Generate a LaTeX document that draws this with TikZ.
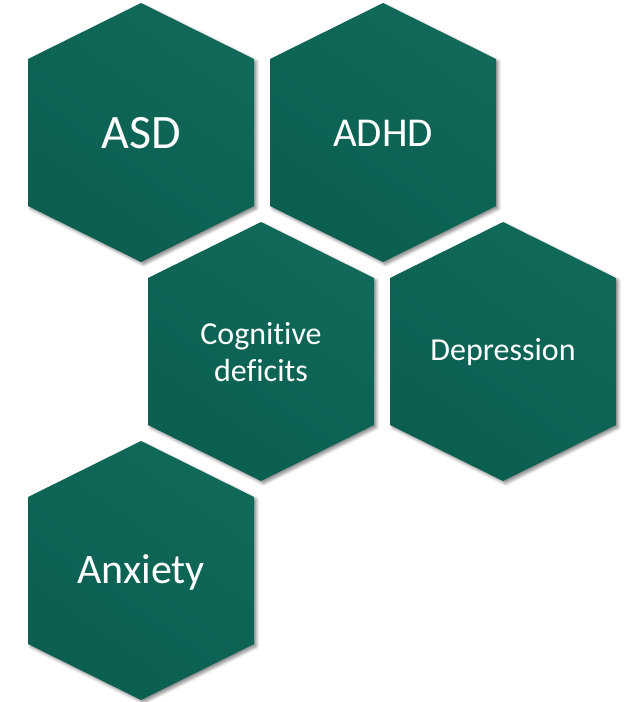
\documentclass[tikz,border=0pt]{standalone}
\usepackage{fontspec}
\setmainfont[Ligatures={NoCommon}]{Carlito}
\usetikzlibrary{shadows.blur}
\definecolor{hexdark}{HTML}{0B5E50}
\definecolor{hexmid}{HTML}{0D6455}
\definecolor{hexlight}{HTML}{11695A}
\begin{document}
\begin{tikzpicture}[x=1pt,y=-1pt,
  hexshape/.style={
    blur shadow={shadow xshift=2.5pt, shadow yshift=-2.5pt,
                 shadow blur radius=3pt, shadow opacity=45},
    top color=hexlight, bottom color=hexdark, middle color=hexmid,
    shading angle=-35},
  pics/hexcell/.style={code={
    \path[hexshape] (0,-129.5) -- (113,-73.5) -- (113,73.5) -- (0,129.5)
      -- (-113,73.5) -- (-113,-73.5) -- cycle;}},
  hexlabel/.style={text=white, align=center, inner sep=0pt}]
  \useasboundingbox (0,0) rectangle (628,702);

  % honeycomb cells
  \pic at (141,132.5) {hexcell};
  \pic at (383,132.5) {hexcell};
  \pic at (261,351.5) {hexcell};
  \pic at (503,351.5) {hexcell};
  \pic at (141,570.5) {hexcell};

  % labels
  \node[hexlabel, font=\fontsize{48}{58}\selectfont] (asd) at (141,133) {ASD};
  \node[hexlabel, font=\fontsize{41}{50}\selectfont] (adhd) at (383,133) {ADHD};
  \node[hexlabel, font=\fontsize{32}{37}\selectfont] (cog) at (261,352) {Cognitive\\deficits};
  \node[hexlabel, font=\fontsize{32}{37}\selectfont] (dep) at (503,352) {Depression};
  \node[hexlabel, font=\fontsize{42}{50}\selectfont] (anx) at (141,572) {Anxiety};
\end{tikzpicture}
\end{document}
